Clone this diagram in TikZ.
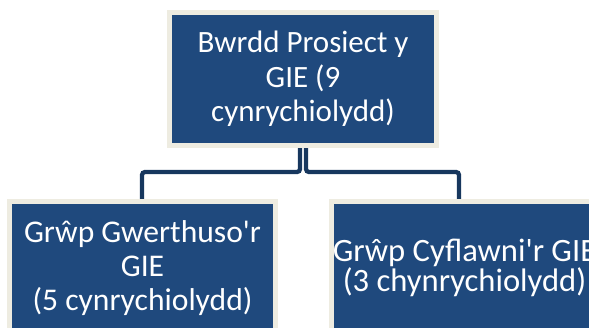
\documentclass[tikz,border=0pt]{standalone}
\usepackage{fontspec}
\setmainfont{Carlito}[Ligatures=TeXOff]
\usetikzlibrary{backgrounds}
\definecolor{boxblue}{HTML}{1F497D}
\definecolor{boxrim}{HTML}{EEECE1}
\definecolor{linkblue}{HTML}{17375E}
\tikzset{
  orgbox/.style={rectangle, fill=boxblue, draw=boxrim, line width=5pt,
    minimum width=266pt, minimum height=132.5pt, text=white, align=center,
    inner sep=0pt, font=\fontsize{31}{34.5}\selectfont},
  link/.style={draw=linkblue, line width=4.3pt, rounded corners=3pt}
}
\begin{document}
\begin{tikzpicture}[x=1pt,y=-1pt]
\useasboundingbox (0,0) rectangle (589,327);
\clip (0,0) rectangle (589,327);
\node[orgbox, minimum width=267pt] (top) at (303,78.75) {Bwrdd Prosiect y\\GIE (9\\cynrychiolydd)};
\node[orgbox, font=\fontsize{31.6}{34}\selectfont] (left) at (142.5,267.75) {Grŵp Gwerthuso'r\\GIE\\(5 cynrychiolydd)};
\node[orgbox, font=\fontsize{32.6}{29.5}\selectfont] (right) at (464.5,267.75) {Grŵp Cyflawni'r GIE\\(3 chynrychiolydd)};
\coordinate (mid) at (0,172);
\begin{scope}[on background layer]
\draw[link] ([xshift=-3pt]top.south) -- ([xshift=-3pt]top.south |- mid) -| ([xshift=-0.5pt]left.north);
\draw[link] ([xshift=3pt]top.south) -- ([xshift=3pt]top.south |- mid) -| ([xshift=-5.5pt]right.north);
\end{scope}
\end{tikzpicture}
\end{document}
